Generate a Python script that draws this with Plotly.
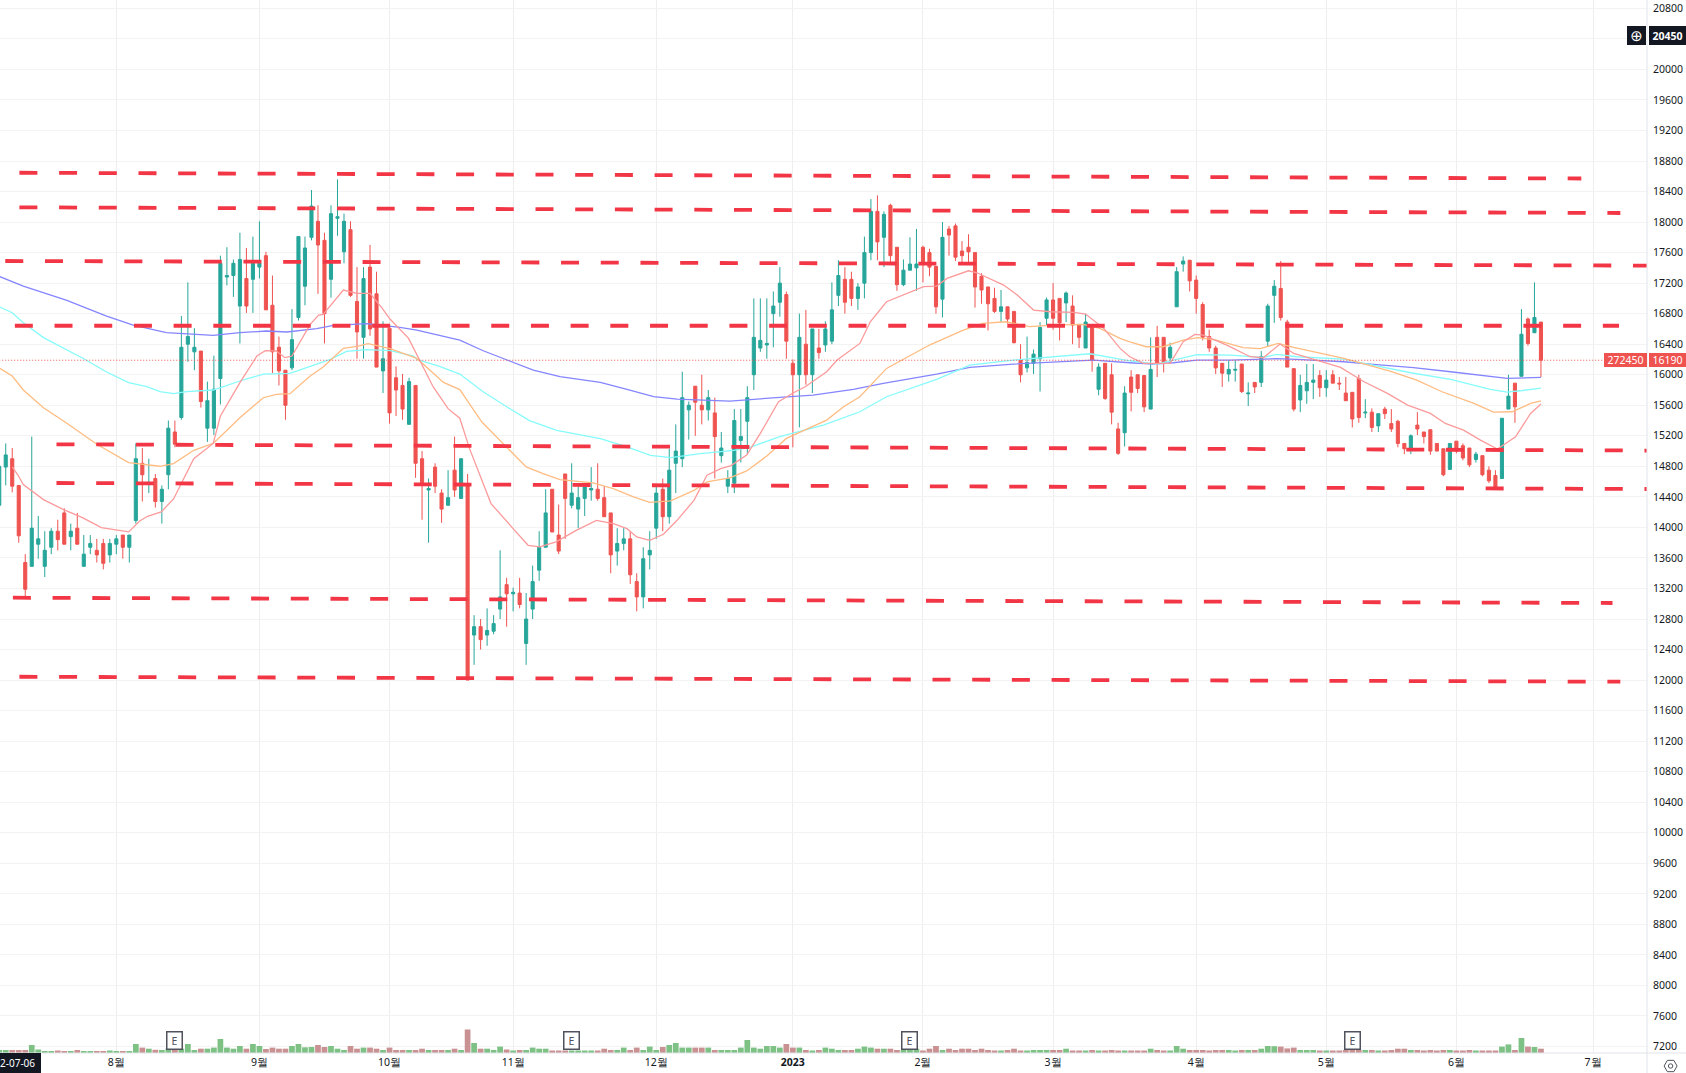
import plotly.graph_objects as go

FIRST_INDEX = -18
opens = [14290,14790,14900,14550,13540,13490,13780,13490,13740,13950,
14190,13880,13990,13490,13740,13700,13790,13640,13780,13900,
13740,14090,14840,14570,14640,14340,14690,15250,15440,16400,
16300,16310,15300,15300,15950,17280,17300,16900,17260,17250,
17410,17560,16910,16360,16060,16090,16750,17160,17800,18010,
17760,17250,18050,17610,17900,16960,16490,17410,17060,16050,
16610,15960,15860,15350,15860,14900,14490,14790,14450,14290,
14750,14380,14560,12590,12700,12590,12640,12930,13250,13130,
13140,12480,12930,13440,13740,14500,13900,14700,14290,14240,
14380,14490,14500,14390,14190,13690,13790,13850,13290,13090,
13640,13990,14500,14140,14840,14900,15540,15850,15600,15540,
15500,14940,14540,14580,15140,15390,16000,16350,16390,16800,
16950,17050,16150,16000,16400,16000,16350,16390,16440,17040,
17250,17250,17000,17200,17600,18140,17800,18220,17670,17180,
17370,17400,17670,17600,17420,16990,17910,17950,17620,17670,
17600,17290,17150,17000,16830,16890,16830,16200,16090,16150,
16210,16740,16980,17000,16940,16900,16660,16350,16640,15810,
16150,16000,15290,15240,15970,16000,15990,15550,16490,16490,
16220,16890,17450,17500,17240,16920,16500,16350,16150,16010,
16060,16140,15750,15900,15900,16440,17040,17130,16690,16080,
15670,15790,15900,15990,15830,16000,15890,15760,15770,15950,
15500,15510,15330,15550,15360,15390,15100,15040,15340,15250,
15280,15100,15030,14760,15130,15070,15040,14890,14940,14750,
14680,14640,15550,15890,15980,16730,16550,16690]
closes = [14800,14950,14540,13890,13190,13990,13850,13700,13950,13840,
13780,13950,13780,13650,13790,13640,13530,13790,13850,13740,
13900,14900,14690,14590,14340,14500,15300,15090,16360,16500,
16360,15650,15660,15810,17460,17300,17460,17510,16900,17460,
17460,16850,16300,16050,15600,16460,17810,17660,18210,17700,
16800,18110,18070,18010,17040,16560,17260,16600,16100,16210,
15500,15800,15550,15910,14840,14560,14510,14540,14240,14390,
14490,14900,12000,12700,12530,12650,12740,13090,13130,13150,
12990,12800,13290,13740,14190,13940,13690,14380,14450,14390,
14530,14510,14380,14140,13640,13790,13850,13380,13090,13590,
13700,14450,14140,14750,15000,15700,15600,15640,15540,15700,
15190,15040,14640,15400,15190,15700,16490,16450,16410,16900,
17200,16440,16000,16490,16000,16600,16290,16600,16850,17300,
16950,17000,17150,17600,18140,17740,18100,17560,17180,17370,
17450,17450,17470,17410,16890,17800,17830,17540,17560,17610,
17150,17110,16930,16830,16890,16730,16420,16000,16160,16270,
16620,16980,16740,16680,17070,16650,16490,16690,16190,16100,
15690,15510,14970,15760,15770,15820,15580,16070,16150,16150,
16360,17350,17490,17230,17000,16490,16350,16090,16020,16070,
16070,15780,15760,15840,16240,16900,17160,16750,16100,15550,
15860,15900,15930,15830,15930,15890,15880,15660,15420,15440,
15510,15310,15490,15490,15290,15100,15030,15200,15290,15190,
15000,15000,14690,15100,15000,14910,14820,14960,14690,14610,
14530,15430,15720,15580,16530,16410,16750,16190]
highs = [14800,15100,15040,14550,13650,15190,14150,13950,13990,14100,
14250,14050,14190,13900,13900,13850,13850,13850,13900,13900,
13900,15100,15040,14900,14700,14550,15400,15400,16770,17210,
16610,16310,15910,16250,17560,17670,17510,17860,17660,17810,
18010,17610,17300,16500,16060,16860,17810,17810,18420,18220,
17860,18220,18560,18110,18010,17410,17410,17700,17350,16700,
16610,16110,16010,15960,15860,15000,14640,14840,14500,14750,
15190,14900,14700,12850,12800,12940,12850,13700,13340,13210,
13340,13140,13500,13950,14500,14500,14300,14700,14840,14530,
14580,14790,14840,14540,14190,13990,13990,13940,13400,13740,
13950,14530,14640,15030,15350,16040,15650,15850,16000,15800,
15700,15250,14750,15550,15550,15850,17000,17000,17000,17090,
17410,17090,16200,16800,16850,16600,16600,16700,17210,17500,
17410,17350,17200,17810,18300,18350,18140,18240,17670,17510,
17800,17910,17690,17650,17420,18000,17950,17980,17750,17840,
17600,17330,17150,17140,17110,16890,16830,16400,16500,16330,
16690,17010,17200,17000,17090,17040,16660,16800,16640,16150,
16150,16150,15370,15850,16060,16000,15990,16490,16640,16490,
16420,17410,17550,17500,17300,16950,16590,16380,16150,16190,
16190,16140,15900,15900,16310,16930,17240,17490,16720,16080,
16000,16140,16140,16060,16060,16060,15970,15970,15770,16000,
15680,15560,15490,15580,15550,15410,15100,15220,15510,15250,
15280,15100,15030,15100,15130,15100,15040,14990,14940,14800,
14750,15430,16000,15890,16860,16750,17210,16690]
lows = [14290,14550,14460,13800,13090,13490,13590,13350,13650,13700,
13780,13700,13780,13490,13650,13540,13450,13540,13650,13590,
13540,14050,14340,14450,14260,14050,14500,15050,15410,16170,
16060,15570,15120,15210,15610,17170,17020,16410,16810,16810,
17260,16850,16020,15860,15410,16060,16710,16910,17760,17060,
16410,17010,17820,17460,17020,16210,16210,16510,16100,15760,
15360,15460,15410,15350,14650,14100,13800,14450,14060,14290,
14400,14380,12000,12200,12400,12450,12600,12800,12700,12900,
12940,12200,12800,13300,13740,13940,13650,13850,14250,13990,
14150,14350,14350,14140,13400,13500,13700,13260,12900,12940,
13450,13850,13950,14050,14450,14790,15150,15200,15350,15400,
14640,14850,14450,14450,14850,14960,15800,16300,16210,16360,
16760,16210,15050,15310,15870,15760,16210,16300,16400,16900,
16800,16900,16850,17000,17500,17500,17410,17460,17100,17160,
17370,17100,17210,17290,16800,16750,17560,17490,17460,17460,
16880,16930,16580,16810,16680,16670,16410,15900,16030,16010,
15780,16650,16590,16450,16690,16400,16350,16350,16040,15730,
15670,15350,14950,15060,15520,15760,15510,15550,15970,16030,
16150,16890,17350,17090,16800,16450,16300,16010,15840,15910,
15910,15760,15590,15760,15840,16370,16680,16710,16100,15520,
15510,15620,15680,15710,15710,15890,15800,15660,15310,15370,
15430,15250,15250,15420,15250,15050,14960,14960,15210,15100,
14950,15000,14670,14760,14970,14880,14790,14850,14670,14580,
14510,14640,15550,15370,15980,16380,16550,15970]
volumes = [300,300,300,300,300,800,350,200,200,250,
200,200,300,200,200,200,200,250,200,200,
200,900,540,430,320,300,460,300,430,900,
300,430,430,540,1400,540,430,700,430,900,
700,400,540,430,430,700,900,570,600,800,
600,700,430,300,700,430,540,540,430,300,
540,300,300,300,300,430,300,300,300,300,
430,300,2350,1000,430,430,300,640,350,250,
300,300,540,430,430,250,250,250,250,250,
250,250,250,430,300,300,540,300,540,300,
640,300,600,800,1000,540,540,540,540,540,
300,300,300,300,540,1300,540,430,700,700,
540,900,540,540,300,250,300,540,430,300,
300,300,430,640,540,430,430,430,300,300,
300,430,250,430,700,300,430,300,430,430,
300,430,300,250,250,300,430,250,250,300,
300,300,300,300,430,250,250,250,300,250,
250,300,250,250,250,250,250,430,300,250,
250,700,430,300,300,300,250,300,300,300,
250,300,300,300,430,700,680,640,460,540,
300,300,300,250,250,250,250,300,300,300,
300,300,250,250,300,430,430,300,300,250,
300,250,300,300,250,250,300,250,250,250,
250,640,860,300,1500,640,600,430]

ma_blue = [(-17.9,17285),(-14.3,17162),(-7.6,16975),(-1.5,16769),(2.6,16651),(7.7,16551),(14.9,16516),(19,16551),(23.1,16573),(26.2,16560),(30.8,16603),(33.4,16647),(38.5,16669),(43.6,16620),(46.2,16585),(52.8,16454),(56.4,16314),(60.5,16179),(64.1,16061),(68.2,15974),(74.4,15899),(78.5,15808),(82.6,15712),(86.2,15681),(94.3,15655),(102,15703),(107.1,15734),(113.3,15808),(117.9,15886),(126.1,16009),(131.2,16096),(137.9,16140),(145.6,16170),(150.2,16192),(155.8,16157),(159.4,16140),(162.5,16157),(166.1,16192),(171.2,16192),(178.4,16210),(181.5,16201),(188.7,16170),(192.8,16140),(199.4,16092),(205.1,16039),(211.2,15974),(213.8,15952),(219,15965)]
ma_cyan = [(-17.9,16887),(-16,16813),(-14.3,16682),(-11.2,16486),(-5,16210),(-1.5,16036),(1.9,15896),(4.7,15844),(6.7,15778),(8.8,15752),(10.8,15778),(14.9,15800),(19,15918),(22.6,16009),(26.7,16018),(30.8,16145),(32.9,16202),(35.4,16306),(38.5,16328),(42.1,16315),(45.7,16245),(46.2,16201),(49.8,16105),(52.8,16009),(56.4,15777),(60,15581),(63.5,15400),(67.7,15272),(74.4,15163),(78.5,15054),(82.1,14945),(85.2,14914),(89.8,14967),(94.9,15010),(97.4,15050),(102,15188),(108.7,15341),(114.3,15515),(118.4,15712),(126.1,15939),(131.2,16127),(137.9,16192),(145.6,16245),(149.7,16275),(154.3,16205),(155.8,16183),(159.9,16140),(163,16201),(166.1,16262),(171.2,16258),(176.3,16227),(178.4,16266),(181.5,16236),(188.7,16205),(191.8,16148),(199,16026),(205.1,15939),(211.2,15808),(213.8,15773),(215.8,15790),(219,15825)]
ma_orange = [(-17.9,16084),(-16,15983),(-14.3,15800),(-11.2,15568),(-7.6,15365),(-3,15090),(1.9,14849),(6.7,14801),(8.8,14836),(11.9,15010),(14.9,15100),(19,15437),(22.6,15699),(24.6,15743),(26.7,15752),(29.8,15983),(31.8,16101),(34.9,16346),(37.2,16376),(38.7,16407),(42.1,16341),(43.6,16293),(46.2,16214),(50.3,15899),(52.8,15805),(56.2,15380),(60.5,15010),(63,14792),(65.6,14705),(68.2,14626),(73.3,14583),(76.4,14508),(79.5,14399),(82,14329),(85.2,14347),(88.8,14486),(90.8,14596),(94.3,14650),(96.9,14740),(100,14935),(103,15166),(109.2,15406),(111.8,15581),(114.3,15712),(118.4,16083),(125,16389),(130.2,16585),(133.2,16672),(136.8,16694),(140.4,16629),(144,16651),(148.6,16659),(151.2,16607),(154.3,16476),(155.8,16432),(158.3,16367),(160.9,16367),(164,16454),(166.3,16485),(169.1,16454),(173.2,16354),(175.8,16341),(178.6,16410),(181,16358),(188.7,16214),(195.8,16048),(199.9,15930),(203.8,15777),(208.7,15624),(211.7,15511),(214.6,15515),(217.4,15624),(219,15659)]
ma_red = [(-16,14792),(-15.1,14683),(-14.3,14561),(-11.2,14364),(-8.1,14233),(-5.2,14128),(-2.3,13997),(0,13971),(1.9,13941),(3.6,14085),(4.8,14146),(6.9,14203),(8.8,14373),(11.9,14901),(14.9,15100),(16,15459),(19,15896),(21.6,16245),(22.9,16315),(24.6,16311),(25.9,16224),(27,16245),(29.8,16660),(31.1,16782),(31.8,16791),(34.9,17110),(37,17066),(39,17066),(40.8,16879),(42.1,16726),(44.9,16480),(46.7,16180),(48.7,15843),(51,15556),(52.8,15430),(54.3,15032),(57.6,14312),(61,13984),(63.3,13766),(65.1,13744),(67.6,13810),(70.7,13962),(73.8,14093),(76.4,14050),(78.5,13984),(80,13875),(82,13831),(84.1,13910),(86.2,14093),(88.8,14355),(90.8,14683),(92.9,14770),(94.5,14810),(96.9,14947),(99,15231),(101.8,15646),(104.1,15764),(105.9,15843),(109.2,16039),(110.8,16192),(114.3,16410),(115.9,16694),(118.4,16956),(124.1,17153),(126.1,17162),(127.7,17262),(131,17362),(132.3,17336),(136.4,17175),(138.5,17044),(141,16847),(143.6,16825),(147.2,16817),(149,16795),(151.8,16607),(154.3,16345),(155.8,16236),(157.9,16148),(162,16148),(164,16432),(165.8,16528),(167.1,16520),(170.7,16389),(174.3,16236),(176.3,16223),(178.9,16402),(181,16279),(188.2,16096),(191.8,15908),(195.4,15755),(198.5,15603),(202,15493),(204.3,15362),(207.1,15275),(209.7,15144),(212.3,15026),(215.1,15188),(217.4,15493),(219,15616)]

# support / resistance levels: (start index, start price, end index, end price)
level_lines = [(-14.9,18646,225.2,18571),(-14.9,18193,231.2,18119),(-17.07,17490,235.3,17430),
               (-15.6,16642,231,16642),(-9.2,15089,235.3,15007),(-9.2,14582,235.3,14503),
               (-15.9,13079,230,13010),(-14.9,12044,231.2,11979)]

month_ticks = [0,22,42,61,83,104,124,144,166,186,206,227]
month_labels = ["8월","9월","10월","11월","12월","<b>2023</b>","2월","3월","4월","5월","6월","7월"]
price_ticks = list(range(7200, 21200, 400))
earnings_idx = [9,70,122,190]
last_price = 16190
last_volume = "272450"
alert_price = 20450
start_date_shown = "2-07-06"

FONT = "Noto Sans"
UP, DOWN = "#26a69a", "#ef5350"
W, H = 1686, 1073
PW, PH = 1647, 1053   # plot area size in page pixels
px = lambda v: v / PW
py = lambda v: (PH - v) / PH

x = list(range(FIRST_INDEX, FIRST_INDEX + len(opens)))
vol_colors = ["#7dc184" if c >= o else "#c99192" for o, c in zip(opens, closes)]

fig = go.Figure()
fig.add_trace(go.Bar(x=x, y=volumes, yaxis="y2", marker=dict(color=vol_colors, line_width=0), hoverinfo="skip"))
fig.add_trace(go.Candlestick(x=x, open=opens, high=highs, low=lows, close=closes, whiskerwidth=0,
    increasing=dict(line=dict(color=UP, width=1), fillcolor=UP),
    decreasing=dict(line=dict(color=DOWN, width=1), fillcolor=DOWN), hoverinfo="skip"))
for data, col in ((ma_blue, "#8585ff"), (ma_cyan, "#86fbfb"), (ma_orange, "#ffbc82"), (ma_red, "#fc9a9b")):
    fig.add_trace(go.Scatter(x=[p[0] for p in data], y=[p[1] for p in data], mode="lines",
                             line=dict(color=col, width=1.3), hoverinfo="skip"))
fig.add_trace(go.Scatter(x=[-18, 236], y=[last_price, last_price], mode="lines",
                         line=dict(color=DOWN, width=1, dash="1px,2px"), hoverinfo="skip"))
for x0, y0, x1, y1 in level_lines:
    fig.add_trace(go.Scatter(x=[x0, x1], y=[y0, y1], mode="lines",
                             line=dict(color="#f23645", width=3.8, dash="18px,21.7px"), hoverinfo="skip"))

annotations = []
for i in earnings_idx:
    annotations.append(dict(x=i, xref="x", y=py(1040.4), yref="paper", xanchor="center", yanchor="middle",
        text="E", showarrow=False, width=12, height=14, bgcolor="#ffffff", bordercolor="#50535e",
        borderwidth=1.5, borderpad=1, font=dict(family=FONT, size=10.5, color="#50535e")))
def tag(xc, yval, yref, w, h, text, bg, size=10.5, family=FONT, align="center"):
    return dict(x=px(xc), xref="paper", y=yval, yref=yref, xanchor="center", yanchor="middle", text=text,
                showarrow=False, width=w, height=h, bgcolor=bg, borderpad=0, borderwidth=0, align=align,
                font=dict(family=family, size=size, color="#ffffff"))
annotations += [
    tag(1667.5, alert_price, "y", 37, 19, f"<b>{alert_price}</b>", "#131722"),
    tag(1636.5, alert_price, "y", 19, 19, "⊕", "#131722", 15, "DejaVu Sans"),
    tag(1667.5, last_price, "y", 37, 14, str(last_price), DOWN),
    tag(1625, last_price, "y", 43, 14, last_volume, DOWN),
    tag(20.5, py(1063), "paper", 41, 20, start_date_shown, "#131722", 10, FONT, "left"),
]

def hexagon(cx, cy, r):
    pts = [(cx - r, cy), (cx - r/2, cy - r*.87), (cx + r/2, cy - r*.87), (cx + r, cy), (cx + r/2, cy + r*.87), (cx - r/2, cy + r*.87)]
    return "M" + " L".join(f"{px(a):.5f},{py(b):.5f}" for a, b in pts) + " Z"

line = dict(color="#e0e3eb", width=1)
shapes = [
    dict(type="line", xref="paper", yref="paper", x0=1, x1=1, y0=py(1073), y1=1, line=line),
    dict(type="line", xref="paper", yref="paper", x0=0, x1=px(1686), y0=0, y1=0, line=line),
    dict(type="path", xref="paper", yref="paper", path=hexagon(1670.6, 1066, 6.5), line=dict(color="#50535e", width=1)),
    dict(type="circle", xref="paper", yref="paper", x0=px(1668.4), x1=px(1672.8), y0=py(1068.2), y1=py(1063.8),
         line=dict(color="#50535e", width=1)),
]

fig.update_layout(
    width=W, height=H, margin=dict(l=0, r=W-PW, t=0, b=H-PH), paper_bgcolor="#ffffff", plot_bgcolor="#ffffff",
    showlegend=False, boxgap=0.32, bargap=0.12, hovermode=False, annotations=annotations, shapes=shapes,
    font=dict(family=FONT, size=10.5, color="#131722"),
    xaxis=dict(range=[-17.88, 235.3], tickmode="array", tickvals=month_ticks, ticktext=month_labels,
               showgrid=True, gridcolor="#eeeeee", gridwidth=1, zeroline=False, showline=False, ticks="",
               ticklabelstandoff=1, rangeslider=dict(visible=False), fixedrange=True,
               tickfont=dict(family=FONT, size=10.5, color="#131722")),
    yaxis=dict(side="right", range=[7115, 20909], tickmode="array", tickvals=price_ticks,
               ticktext=["" if t == 20400 else str(t) for t in price_ticks], showgrid=True, gridcolor="#f3f3f3",
               gridwidth=1, zeroline=False, showline=False, ticks="", ticklabelstandoff=5, fixedrange=True,
               tickfont=dict(family=FONT, size=10.5, color="#131722")),
    yaxis2=dict(overlaying="y", range=[0, 105300], visible=False, fixedrange=True),
)
fig.write_html("out.html", config=dict(displayModeBar=False), post_script="document.body.style.margin='0';")
